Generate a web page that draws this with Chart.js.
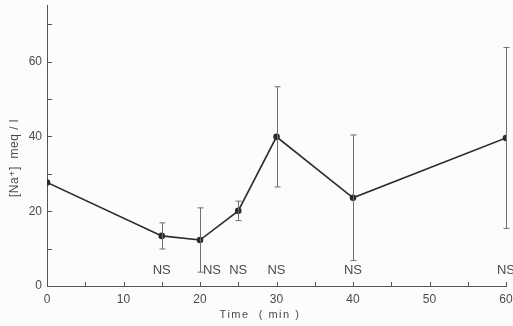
<!DOCTYPE html>
<html lang="en">
<head>
    <meta charset="UTF-8">
    <title>[Na+] over time</title>
    <script src="https://cdn.jsdelivr.net/npm/chart.js"></script>
    <style>
        * { margin: 0; padding: 0; box-sizing: border-box; }
        body { background: #fcfcfa; }
        .chart-box { width: 513px; height: 326px; position: relative; }
    </style>
</head>
<body>
    <div class="chart-box">
        <canvas id="naChart"></canvas>
    </div>

    <script>
        // data
        const times = [0, 15, 20, 25, 30, 40, 60];
        const means = [27.7, 13.4, 12.3, 20.1, 39.9, 23.6, 39.6];
        const errs  = [0, 3.5, 8.6, 2.6, 13.4, 16.8, 24.2];
        const nsTimes = [15, 20, 25, 30, 40, 60];
        const nsLabels = ['NS', 'NS', 'NS', 'NS', 'NS', 'NS'];

        const ink = '#2b2b2b';
        const textColor = '#4a4a4a';
        const fontFamily = "'Liberation Sans', 'DejaVu Sans', sans-serif";

        // background, inward ticks, error bars, NS marks, axis titles
        const figurePlugin = {
            id: 'figure',
            beforeDraw(chart) {
                const ctx = chart.ctx;
                ctx.save();
                ctx.fillStyle = '#fcfcfa';
                ctx.fillRect(0, 0, chart.width, chart.height);
                ctx.restore();
            },
            afterDatasetsDraw(chart) {
                const {ctx, chartArea, scales: {x, y}} = chart;
                ctx.save();

                // error bars
                ctx.strokeStyle = '#707070';
                ctx.lineWidth = 1;
                times.forEach((t, i) => {
                    if (!errs[i]) return;
                    const px = Math.round(x.getPixelForValue(t)) + 0.5;
                    const top = y.getPixelForValue(means[i] + errs[i]);
                    const bot = y.getPixelForValue(means[i] - errs[i]);
                    ctx.beginPath();
                    ctx.moveTo(px, top); ctx.lineTo(px, bot);
                    ctx.moveTo(px - 3, top); ctx.lineTo(px + 3, top);
                    ctx.moveTo(px - 3, bot); ctx.lineTo(px + 3, bot);
                    ctx.stroke();
                });

                // inward tick marks
                ctx.strokeStyle = '#555';
                x.ticks.forEach(tk => {
                    if (tk.value === 0) return;
                    const px = Math.round(x.getPixelForValue(tk.value)) + 0.5;
                    ctx.beginPath();
                    ctx.moveTo(px, chartArea.bottom);
                    ctx.lineTo(px, chartArea.bottom - 4);
                    ctx.stroke();
                });
                y.ticks.forEach(tk => {
                    if (tk.value === 0 || tk.value % 10 !== 0) return;
                    const py = Math.round(y.getPixelForValue(tk.value)) + 0.5;
                    ctx.beginPath();
                    ctx.moveTo(chartArea.left, py);
                    ctx.lineTo(chartArea.left + 5, py);
                    ctx.stroke();
                });

                // NS labels
                ctx.fillStyle = textColor;
                ctx.font = '13px ' + fontFamily;
                ctx.textAlign = 'center';
                ctx.textBaseline = 'middle';
                nsTimes.forEach((t, i) => {
                    const nudge = t === 20 ? 12 : 0;
                    ctx.fillText(nsLabels[i], x.getPixelForValue(t) + nudge, chartArea.bottom - 16);
                });

                // axis titles
                ctx.font = '11px ' + fontFamily;
                ctx.letterSpacing = '1.5px';
                ctx.fillText('Time  ( min )', 260, 315);

                ctx.translate(15, 158);
                ctx.rotate(-Math.PI / 2);
                ctx.font = '12px ' + fontFamily;
                ctx.letterSpacing = '0.5px';
                ctx.fillText('[Na\u207A]  meq / l', 0, 0);
                ctx.restore();
            }
        };

        new Chart(document.getElementById('naChart').getContext('2d'), {
            type: 'line',
            data: {
                datasets: [{
                    data: times.map((t, i) => ({x: t, y: means[i]})),
                    borderColor: ink,
                    borderWidth: 1.6,
                    pointRadius: 2.5,
                    pointBackgroundColor: ink,
                    pointBorderColor: ink,
                    tension: 0
                }]
            },
            options: {
                responsive: true,
                maintainAspectRatio: false,
                animation: false,
                layout: { padding: { top: 5, right: 7, left: 0, bottom: 0 } },
                plugins: { legend: { display: false }, tooltip: { enabled: false } },
                scales: {
                    x: {
                        type: 'linear',
                        min: 0,
                        max: 60,
                        grid: { display: false, drawTicks: false },
                        border: { display: true, color: '#555', width: 1 },
                        ticks: {
                            stepSize: 5,
                            padding: 6,
                            color: textColor,
                            font: { family: fontFamily, size: 12 },
                            maxRotation: 0,
                            autoSkip: false,
                            callback: v => (v % 10 === 0 ? String(v) : '')
                        },
                        afterFit: s => { s.height = 40; s.paddingLeft = 0; s.paddingRight = 0; }
                    },
                    y: {
                        min: 0,
                        max: 75,
                        grid: { display: false, drawTicks: false },
                        border: { display: true, color: '#555', width: 1 },
                        ticks: {
                            stepSize: 10,
                            padding: 5,
                            color: textColor,
                            font: { family: fontFamily, size: 12 },
                            autoSkip: false,
                            callback: v => (v % 20 === 0 && v <= 60 ? String(v) : '')
                        },
                        afterFit: s => { s.width = 47; s.paddingTop = 0; s.paddingBottom = 0; }
                    }
                }
            },
            plugins: [figurePlugin]
        });
    </script>
</body>
</html>
